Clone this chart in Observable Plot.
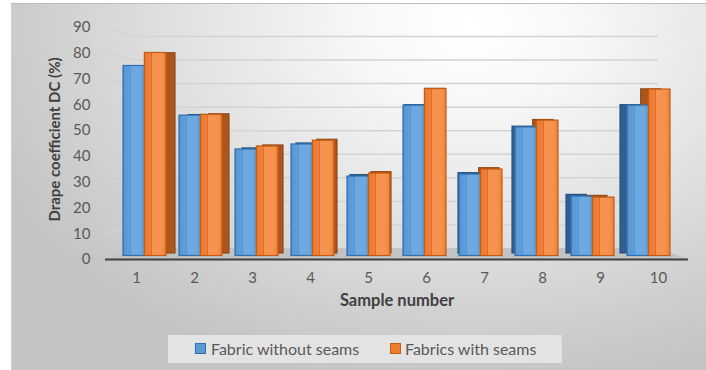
<!DOCTYPE html>
<html><head><meta charset="utf-8">
<script src="https://cdn.jsdelivr.net/npm/d3@7"></script>
<script src="https://cdn.jsdelivr.net/npm/@observablehq/plot@0.6"></script>
<style>
body{margin:0;background:#fff;}
#chart{position:relative;width:706px;height:370px;overflow:hidden;font-family:Lato,sans-serif;}
#bg{position:absolute;left:11px;top:3px;width:695px;height:367px;border-top:1px solid #bdbdbd;border-left:1px solid #cfcfcf;box-sizing:border-box;
 background: radial-gradient(ellipse 75% 100% at 66% 6%, #ffffff 0%, #f7f7f7 22%, #e2e2e2 55%, #cdcdcd 85%, #c4c4c4 100%);}
.layer{position:absolute;left:0;top:0;}
#legend{position:absolute;left:168px;top:335px;width:394px;height:28px;background:#e3e3e3;color:#595959;font-size:16px;}
#legend .sw{position:absolute;top:8px;width:11px;height:11px;box-sizing:border-box;}
#legend .lb{position:absolute;top:4px;line-height:20px;white-space:nowrap;}
</style>
</head><body>
<div id="chart"><div id="bg"></div></div>
<script>
// ---- data ----
const samples = ["1","2","3","4","5","6","7","8","9","10"];
const withoutSeams = [75.8, 56.0, 42.5, 44.5, 31.7, 60.0, 32.5, 51.3, 23.7, 60.0];
const withSeams    = [81.0, 56.3, 43.7, 46.0, 32.9, 66.6, 34.5, 54.0, 23.3, 66.4];
const yTicks = [0, 10, 20, 30, 40, 50, 60, 70, 80, 90];
const seriesNames = ["Fabric without seams", "Fabrics with seams"];
const xTitle = "Sample number";
const yTitle = "Drape coefficient DC (%)";

const rows = samples.map((s, i) => ({sample: s, without: withoutSeams[i], with: withSeams[i]}));

// ---- layout (pixel planes of the 3-D look) ----
const W = 706, H = 320;
const frontPlane   = {left: 105,   right: 688,   y0: 259,   y90: 27};
const backPlane    = {left: 135,   right: 658,   y0: 248,   y90: 36};
const barPlane     = {left: 115.3, right: 678.2, y0: 255.5, y90: 29.9};
const barBackPlane = {left: 125.3, right: 669.2, y0: 253,   y90: 30.5};
const margins = p => ({marginLeft: p.left, marginRight: W - p.right, marginTop: p.y90, marginBottom: H - p.y0});
const transparent = {background: "transparent", overflow: "visible"};
const chart = document.getElementById("chart");
function add(svg){ svg.classList.add("layer"); chart.appendChild(svg); return svg; }

// projection of a front-plane point into back-plane data coordinates
const bUnit = (backPlane.y0 - backPlane.y90) / 90;
const fUnit = (frontPlane.y0 - frontPlane.y90) / 90;
const bW = backPlane.right - backPlane.left;
const projY = v => (backPlane.y0 - (frontPlane.y0 - v * fUnit)) / bUnit;
const xFL = (frontPlane.left - backPlane.left) / bW;
const xFR = (frontPlane.right - backPlane.left) / bW;
const yF = projY(0);

// ---- back wall: gridlines, side-wall diagonals, floor ----
const floorPts = [
  {x: xFL, y1: yF, y2: yF}, {x: 0, y1: yF, y2: 0}, {x: 1, y1: yF, y2: 0}, {x: xFR, y1: yF, y2: yF}
];
add(Plot.plot({
  width: W, height: H, ...margins(backPlane), style: transparent,
  x: {domain: [0, 1], axis: null}, y: {domain: [0, 90], axis: null},
  marks: [
    Plot.areaY(floorPts, {x: "x", y1: "y1", y2: "y2", fill: "#c3c3c3"}),
    Plot.ruleY(yTicks.filter(v => v > 0), {stroke: "#d3d3d3", strokeWidth: 1.5}),
    Plot.link(yTicks.filter(v => v > 0), {x1: xFL, y1: v => projY(v), x2: 0, y2: v => v, stroke: "#d3d3d3", strokeWidth: 1.5})
  ]
}));

// ---- bars ----
function barsPlot(plane, fills, strokes) {
  const pi = 0.24, po = 0.12;
  const step = (plane.right - plane.left) / (samples.length - pi + 2 * po);
  const half = step * (1 - pi) / 2;
  return Plot.plot({
    width: W, height: H, ...margins(plane), style: transparent,
    x: {type: "band", domain: samples, paddingInner: pi, paddingOuter: po, axis: null},
    y: {domain: [0, 90], axis: null},
    marks: [
      Plot.barY(rows, {x: "sample", y: "without", insetLeft: 0, insetRight: half, fill: fills[0], stroke: strokes[0], strokeWidth: 1.2}),
      Plot.barY(rows, {x: "sample", y: "with", insetLeft: half, insetRight: 0, fill: fills[1], stroke: strokes[1], strokeWidth: 1.2})
    ]
  });
}
add(barsPlot(barBackPlane, ["#305f90", "#a9561f"], ["#28527e", "#94491a"]));
const front = add(barsPlot(barPlane, ["url(#gBlue)", "url(#gOrange)"], ["#2f6fb0", "#c55a11"]));
const defs = d3.select(front).insert("defs", ":first-child");
function grad(id, stops) {
  const g = defs.append("linearGradient").attr("id", id).attr("x1", 0).attr("x2", 1).attr("y1", 0).attr("y2", 0);
  stops.forEach(([o, c]) => g.append("stop").attr("offset", o).attr("stop-color", c));
}
grad("gBlue", [[0, "#4f8dcc"], [0.1, "#5c9ad6"], [0.3, "#5e9cd8"], [0.33, "#4d8bc9"], [0.37, "#6aa8e2"], [0.8, "#6ea9e0"], [1, "#5d97d0"]]);
grad("gOrange", [[0, "#e2702a"], [0.1, "#ec7d33"], [0.3, "#ee8039"], [0.33, "#dd6d26"], [0.37, "#f59450"], [0.8, "#f4924c"], [1, "#ea8138"]]);

// ---- front: axes, axis line, titles ----
add(Plot.plot({
  width: W, height: H, ...margins(frontPlane),
  style: {...transparent, fontFamily: "Lato, sans-serif", fontSize: "15px", color: "#595959"},
  x: {type: "band", domain: samples, padding: 0, tickSize: 0, tickPadding: 13, label: null},
  y: {domain: [0, 90], ticks: yTicks, tickSize: 0, tickPadding: 15, label: null, tickFormat: d => String(d)},
  marks: [
    Plot.ruleY([0], {stroke: "#404040", strokeWidth: 2}),
    Plot.text([xTitle], {text: d => d, frameAnchor: "bottom", dy: 46, textAnchor: "middle", fontWeight: "bold", fill: "#404040", fontSize: 16.5}),
    Plot.text([yTitle], {text: d => d, frameAnchor: "left", dx: -50, dy: -4, rotate: -90, textAnchor: "middle", fontWeight: "bold", fill: "#404040", fontSize: 15})
  ]
}));

// ---- legend ----
const legend = document.createElement("div");
legend.id = "legend";
const swColors = [["#5b9bd5", "#2f6fb0"], ["#ed7d31", "#c55a11"]];
const swX = [27, 222], lbX = [43, 237];
seriesNames.forEach((name, i) => {
  const sw = document.createElement("div");
  sw.className = "sw"; sw.style.left = swX[i] + "px";
  sw.style.background = swColors[i][0]; sw.style.border = "1px solid " + swColors[i][1];
  const lb = document.createElement("div");
  lb.className = "lb"; lb.style.left = lbX[i] + "px"; lb.textContent = name;
  legend.appendChild(sw); legend.appendChild(lb);
});
chart.appendChild(legend);
</script>
</body></html>
